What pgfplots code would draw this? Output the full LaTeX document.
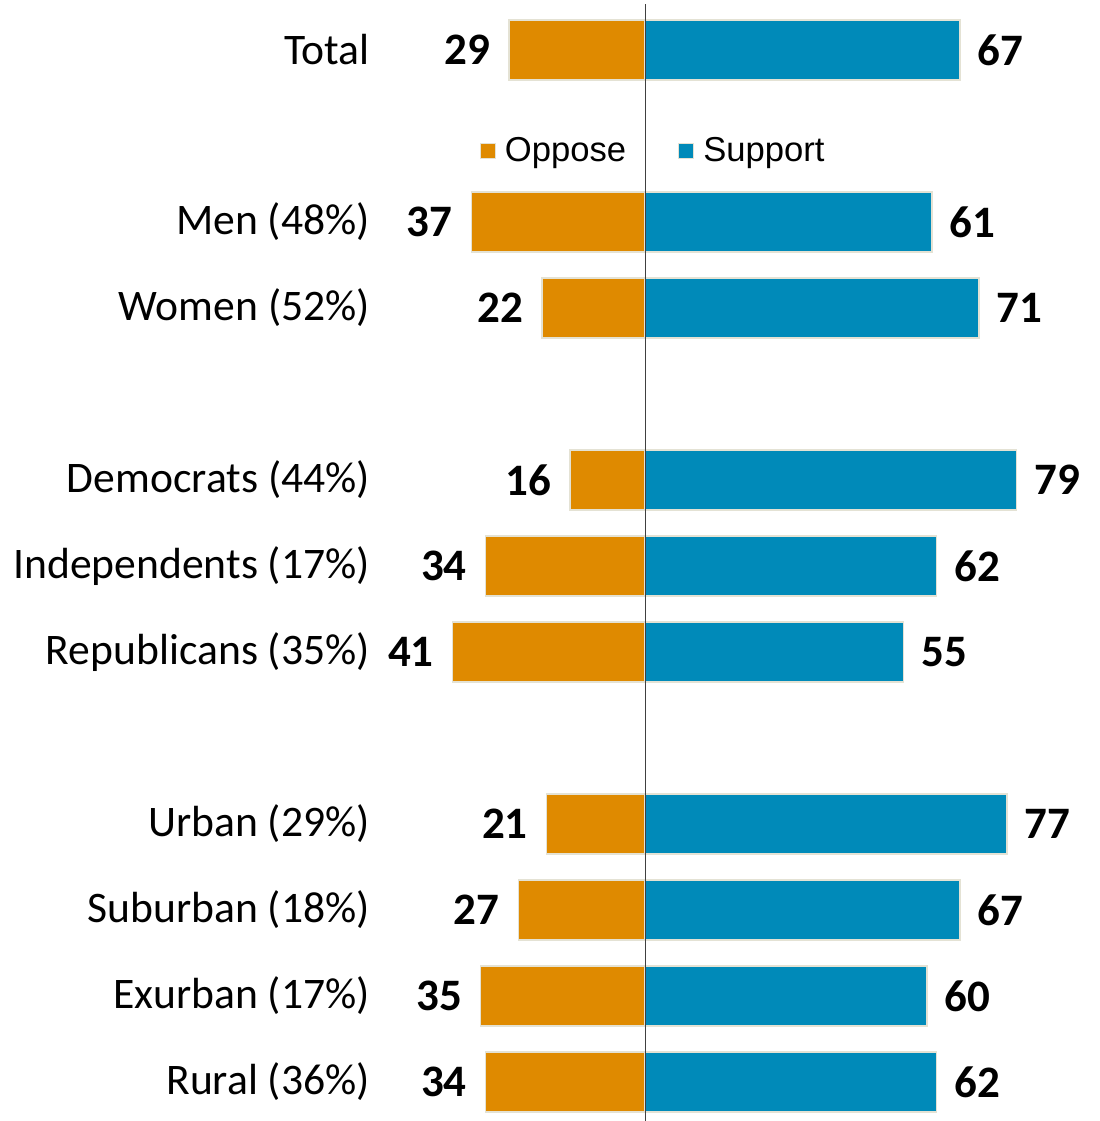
\documentclass[border=0pt]{standalone}
\usepackage{fontspec}
\setmainfont{Carlito}
\newfontfamily\legfont{Liberation Sans}
\usepackage{pgfplots}
\pgfplotsset{compat=1.18}
\definecolor{opp}{RGB}{223,138,0}
\definecolor{sup}{RGB}{0,138,185}
\definecolor{edge}{RGB}{228,226,212}
\begin{document}
\begin{tikzpicture}
\begin{axis}[
  scale only axis,
  width=549.5pt, height=560.5pt,
  xmin=-137.23, xmax=96.6,
  ymin=-0.581, ymax=12.454,
  y dir=reverse,
  axis line style={draw=none},
  major tick length=0pt,
  xtick=\empty,
  ytick={0,2,3,5,6,7,9,10,11,12},
  yticklabels={Total,Men (48\%),Women (52\%),Democrats (44\%),Independents (17\%),Republicans (35\%),Urban (29\%),Suburban (18\%),Exurban (17\%),Rural (36\%)},
  yticklabel style={anchor=east, inner sep=0pt, xshift=185pt, font=\fontsize{21.8}{26}\selectfont},
  point meta=explicit,
  /pgf/number format/assume math mode=true,
  nodes near coords={\pgfmathprintnumber{\pgfplotspointmeta}},
  every node near coord/.append style={font=\fontsize{22.5}{27}\selectfont\bfseries, inner sep=0pt, text=black},
  legend columns=2,
  legend style={draw=none, fill=none, at={(0.595,0.865)}, anchor=center,
    font=\legfont\fontsize{17.3}{20}\selectfont,
    /tikz/every odd column/.append style={column sep=2.5pt},
    /tikz/every even column/.append style={column sep=24pt}},
  legend image code/.code={\draw[#1, line width=0.6pt] (0pt,-3.75pt) rectangle (7.5pt,3.75pt);},
]
\addplot[xbar, bar width=30pt, bar shift=0pt, fill=opp, draw=edge, line width=0.75pt,
  nodes near coords style={anchor=east, xshift=-9pt}]
  coordinates {(-29,0) [29] (-37,2) [37] (-22,3) [22] (-16,5) [16] (-34,6) [34]
               (-41,7) [41] (-21,9) [21] (-27,10) [27] (-35,11) [35] (-34,12) [34]};
\addlegendentry{Oppose}
\addplot[xbar, bar width=30pt, bar shift=0pt, fill=sup, draw=edge, line width=0.75pt,
  nodes near coords style={anchor=west, xshift=8.5pt}]
  coordinates {(67,0) [67] (61,2) [61] (71,3) [71] (79,5) [79] (62,6) [62]
               (55,7) [55] (77,9) [77] (67,10) [67] (60,11) [60] (62,12) [62]};
\addlegendentry{Support}
\draw[black!75, line width=0.6pt] (axis cs:0,-0.53) -- (axis cs:0,12.454);
\end{axis}
\end{tikzpicture}
\end{document}
